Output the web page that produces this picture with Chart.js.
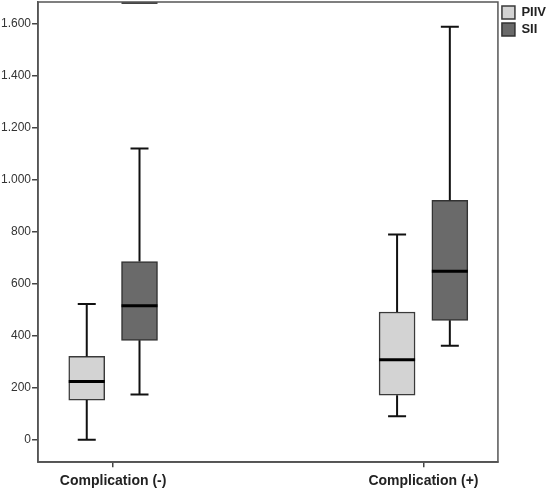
<!DOCTYPE html>
<html>
<head>
<meta charset="utf-8">
<script src="https://cdn.jsdelivr.net/npm/chart.js@4"></script>
<style>
  html, body { margin: 0; padding: 0; background: #fff; }
  #wrap { width: 550px; height: 493px; }
</style>
</head>
<body>
<div id="wrap"><canvas id="myChart"></canvas></div>
<script>
// Box plot: PIIV and SII per complication group
// ////////////

const groups = ["Complication (-)", "Complication (+)"];
const yTicks = [0, 200, 400, 600, 800, 1000, 1200, 1400, 1600];

// box statistics per group
const piivMin = [0, 91];
const piivQ1 = [153, 172];
const piivMedian = [225, 308];
const piivQ3 = [321, 492];
const piivMax = [523, 790];

const siiMin = [175, 362];
const siiQ1 = [383, 460];
const siiMedian = [516, 649];
const siiQ3 = [686, 922];
const siiMax = [1121, 1590];
// extreme value clipped at the top edge (first group only)
const siiExtreme = [1685, null];

// each box sits a little left / right of its group tick
const boxOffset = 0.085;

function thousands(v) {
  if (v >= 1000) {
    return Math.floor(v / 1000) + "." + String(v % 1000).padStart(3, "0");
  }
  return String(v);
}

// whiskers, caps and medians, drawn through the chart scales
const boxLines = {
  id: "boxLines",
  afterDatasetsDraw(chart) {
    const { ctx, chartArea, scales: { x, y } } = chart;
    ctx.save();
    chart.data.datasets.forEach((ds, i) => {
      const meta = chart.getDatasetMeta(i);
      meta.data.forEach((bar, j) => {
        const cx = x.getPixelForValue(ds.data[j].x);
        const half = bar.width / 2;
        const st = ds.stats;
        ctx.strokeStyle = "#111";
        ctx.lineWidth = 2;
        ctx.beginPath();
        // upper whisker + cap
        ctx.moveTo(cx, y.getPixelForValue(st.q3[j]));
        ctx.lineTo(cx, y.getPixelForValue(st.max[j]));
        ctx.moveTo(cx - half / 2, y.getPixelForValue(st.max[j]));
        ctx.lineTo(cx + half / 2, y.getPixelForValue(st.max[j]));
        // lower whisker + cap
        ctx.moveTo(cx, y.getPixelForValue(st.q1[j]));
        ctx.lineTo(cx, y.getPixelForValue(st.min[j]));
        ctx.moveTo(cx - half / 2, y.getPixelForValue(st.min[j]));
        ctx.lineTo(cx + half / 2, y.getPixelForValue(st.min[j]));
        ctx.stroke();
        // median
        ctx.lineWidth = 3;
        ctx.strokeStyle = "#000";
        ctx.beginPath();
        ctx.moveTo(cx - half, y.getPixelForValue(st.median[j]));
        ctx.lineTo(cx + half, y.getPixelForValue(st.median[j]));
        ctx.stroke();
        // extreme marker
        if (st.extreme && st.extreme[j] != null) {
          const ey = Math.max(chartArea.top + 1, y.getPixelForValue(st.extreme[j]));
          ctx.lineWidth = 2;
          ctx.strokeStyle = "#444";
          ctx.beginPath();
          ctx.moveTo(cx - half, ey);
          ctx.lineTo(cx + half, ey);
          ctx.stroke();
        }
      });
    });
    // frame round the plot area
    ctx.strokeStyle = "#555";
    ctx.lineWidth = 1.5;
    ctx.strokeRect(chartArea.left, chartArea.top, chartArea.right - chartArea.left, chartArea.bottom - chartArea.top);
    ctx.restore();
  }
};

const ctx = document.getElementById("myChart");

new Chart(ctx, {
  type: "bar",
  data: {
    datasets: [{
      label: "PIIV",
      data: groups.map((g, i) => ({ x: i - boxOffset, y: [piivQ1[i], piivQ3[i]] })),
      stats: { min: piivMin, q1: piivQ1, median: piivMedian, q3: piivQ3, max: piivMax },
      backgroundColor: "#d3d3d3",
      borderColor: "#3a3a3a",
      borderWidth: 1.5,
      borderSkipped: false,
      barThickness: 36,
      grouped: false
    }, {
      label: "SII",
      data: groups.map((g, i) => ({ x: i + boxOffset, y: [siiQ1[i], siiQ3[i]] })),
      stats: { min: siiMin, q1: siiQ1, median: siiMedian, q3: siiQ3, max: siiMax, extreme: siiExtreme },
      backgroundColor: "#6a6a6a",
      borderColor: "#333",
      borderWidth: 1.5,
      borderSkipped: false,
      barThickness: 36,
      grouped: false
    }]
  },
  options: {
    responsive: true,
    maintainAspectRatio: false,
    animation: false,
    layout: { padding: { top: 2, right: -6, bottom: -3, left: 0 } },
    plugins: {
      tooltip: { enabled: false },
      legend: {
        position: "right",
        align: "start",
        labels: {
          boxWidth: 13,
          boxHeight: 13,
          padding: 4,
          color: "#222",
          font: { family: "Liberation Sans, Arial, sans-serif", size: 13, weight: "bold" }
        }
      }
    },
    scales: {
      x: {
        type: "linear",
        offset: false,
        min: -0.242,
        max: 1.24,
        afterBuildTicks: axis => { axis.ticks = [{ value: 0 }, { value: 1 }]; },
        ticks: {
          callback: v => groups[v],
          color: "#222",
          padding: 6,
          font: { family: "Liberation Sans, Arial, sans-serif", size: 14, weight: "bold" }
        },
        grid: { offset: false, drawOnChartArea: false, drawTicks: true, tickLength: 5, color: "#444", lineWidth: 1.5 },
        border: { color: "#555", width: 1.5 }
      },
      y: {
        min: -86,
        max: 1685,
        afterBuildTicks: axis => { axis.ticks = yTicks.map(v => ({ value: v })); },
        afterFit: axis => { axis.paddingTop = 0; axis.paddingBottom = 0; },
        ticks: {
          callback: v => thousands(v),
          color: "#333",
          padding: 1,
          font: { family: "Liberation Sans, Arial, sans-serif", size: 12 }
        },
        grid: { drawOnChartArea: false, drawTicks: true, tickLength: 6, color: "#444", lineWidth: 1.5 },
        border: { color: "#555", width: 1.5 }
      }
    }
  },
  plugins: [boxLines]
});
</script>
</body>
</html>
